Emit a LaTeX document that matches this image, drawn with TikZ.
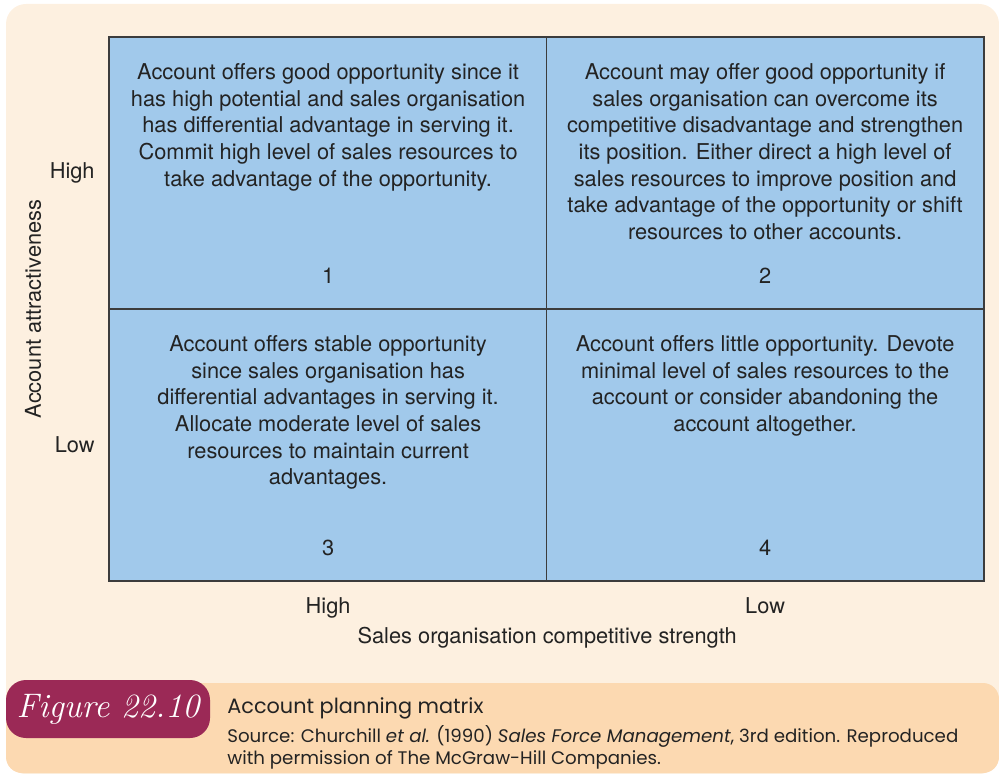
\documentclass[tikz,border=0pt]{standalone}
\usepackage{fontspec}
\setmainfont{TeX Gyre Heros}
\newfontfamily\capfont{Poppins}
\newfontfamily\figfont{Latin Modern Roman}
\usetikzlibrary{positioning}
\definecolor{panelcream}{RGB}{253,240,224}
\definecolor{capbar}{RGB}{252,217,177}
\definecolor{cellblue}{RGB}{161,201,235}
\definecolor{figmaroon}{RGB}{155,41,86}
\definecolor{gridgray}{RGB}{60,60,60}
\definecolor{txtgray}{RGB}{35,35,35}

\begin{document}
\begin{tikzpicture}[
    x=0.5pt, y=-0.5pt,
    cell/.style={rectangle, draw=gridgray, fill=cellblue, line width=0.6pt, minimum width=218.5pt, minimum height=135.5pt, inner sep=0pt, anchor=north west},
    celltext/.style={align=center, font=\fontsize{10.9}{13.35}\selectfont, text=txtgray, inner sep=0pt},
    axislabel/.style={font=\fontsize{10.9}{12}\selectfont, text=txtgray, inner sep=0pt},
    figlabel/.style={rectangle, fill=figmaroon, rounded corners=10pt, minimum width=102pt, minimum height=29pt, text=white, font=\figfont\itshape\fontsize{17}{18}\selectfont},
    captext/.style={font=\capfont, text=txtgray, inner sep=0pt, align=left}
]
\useasboundingbox (0,0) rectangle (999,774);

% Panels
\fill[panelcream, rounded corners=10pt] (6,4) rectangle (999,774);
\fill[capbar, rounded corners=8pt] (6,683) rectangle (999,773);

% Matrix cells
\node[cell] (c1) at (109,37) {};
\node[cell] (c2) at (546,37) {};
\node[cell] (c3) at (109,309) {};
\node[cell] (c4) at (546,309) {};
\draw[gridgray, line width=0.8pt] (c1.north west) rectangle (c4.south east);

% Cell texts
\node[celltext, below=13pt of c1.north] (t1) {Account offers good opportunity since it\\has high potential and sales organisation\\has differential advantage in serving it.\\Commit high level of sales resources to\\take advantage of the opportunity.};
\node[celltext, below=13pt of c2.north] (t2) {Account may offer good opportunity if\\sales organisation can overcome its\\competitive disadvantage and strengthen\\its position. Either direct a high level of\\sales resources to improve position and\\take advantage of the opportunity or shift\\resources to other accounts.};
\node[celltext, below=13pt of c3.north] (t3) {Account offers stable opportunity\\since sales organisation has\\differential advantages in serving it.\\Allocate moderate level of sales\\resources to maintain current\\advantages.};
\node[celltext, below=13pt of c4.north] (t4) {Account offers little opportunity. Devote\\minimal level of sales resources to the\\account or consider abandoning the\\account altogether.};

% Cell numbers
\node[celltext, above=12.5pt of c1.south] (n1) {1};
\node[celltext, above=12.5pt of c2.south] (n2) {2};
\node[celltext, above=12.5pt of c3.south] (n3) {3};
\node[celltext, above=12.5pt of c4.south] (n4) {4};

% Axis labels
\node[axislabel, left=7pt of c1.west] (yhigh) {High};
\node[axislabel, left=7pt of c3.west] (ylow) {Low};
\node[axislabel, rotate=90] (ytitle) at (33,309) {Account attractiveness};
\node[axislabel, below=8pt of c3.south] (xhigh) {High};
\node[axislabel, below=8pt of c4.south] (xlow) {Low};
\node[axislabel, below=23pt of c3.south east] (xtitle) {Sales organisation competitive strength};

% Caption
\node[figlabel] (fig) at (108,709) {Figure 22.10};
\node[captext, anchor=west, font=\capfont\fontsize{10.4}{12}\selectfont] (captitle) at (227,708) {Account planning matrix};
\node[captext, anchor=north west, font=\capfont\fontsize{9.1}{11}\selectfont] (capsrc) at (227,725) {Source: Churchill \textit{et al.} (1990) \textit{Sales Force Management}, 3rd edition. Reproduced\\with permission of The McGraw-Hill Companies.};

\end{tikzpicture}
\end{document}
